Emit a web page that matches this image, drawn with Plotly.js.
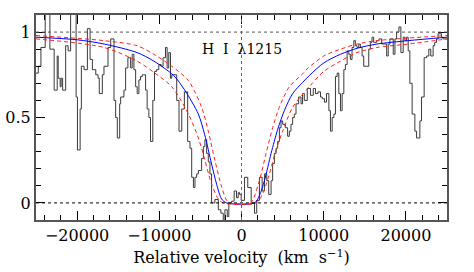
<!DOCTYPE html>
<html>
<head>
<meta charset="utf-8">
<script src="https://cdn.plot.ly/plotly-3.0.1.min.js"></script>
<style>html,body{margin:0;padding:0;background:#fff;}#chart{width:474px;height:272px;}</style>
</head>
<body>
<div id="chart"></div>
<script>
// Observed spectrum (bin start velocity, normalised flux)
const specV = [-25000,-24720,-24400,-23880,-23310,-22790,-22420,-22300,-22060,-21940,-21760,-21390,-21090,-20790,-20120,-19960,-19630,-19480,-19150,-18750,-18420,-18140,-17730,-17450,-17300,-16930,
-16730,-16240,-15910,-15510,-15310,-15110,-14820,-14700,-14300,-14100,-13820,-13490,-13300,-13090,-12880,-12690,-12480,-12280,-12080,-11880,-11670,-11480,-11270,-11070,-10790,-10580,-10340,-10060,-9780,-9540,-9250,-9050,-8850,-8640,
-8480,-7880,-7600,-7270,-6950,-6550,-6270,-6060,-5850,-5660,-5450,-5250,-4850,-4640,-4450,-4240,-4040,-3840,-3640,-3240,-2820,-2510,-2220,-2020,-1730,-1540,-1210,-890,-610,-400,
-240,-40,360,760,1180,1580,1850,2180,2510,2790,3070,3310,3600,3790,4000,4210,4400,4610,4810,5010,5330,5610,5820,6020,6220,6420,6630,6950,7240,7430,7640,
8000,8400,8730,9000,9300,9610,9820,10100,10340,10630,10820,11030,11240,11430,11640,11840,12040,12240,12450,12640,12850,13050,13250,13450,13660,13850,14060,14270,14460,14670,14870,15190,15480,15670,15880,16080,
16240,16450,16730,17050,17370,17660,17850,18060,18460,18670,18870,19150,19390,19670,19880,20080,20280,20480,20760,21090,21300,21490,21700,21900,22220,22510,22790,23030,23310,23510,23720,23910,24330,24520,25000];
const specF = [0.76,0.80,0.91,1.12,0.90,0.66,0.86,0.73,0.68,0.73,0.66,0.92,0.89,1.12,0.62,0.31,0.55,0.80,0.78,1.02,0.84,0.78,0.75,0.73,0.64,0.75,
0.80,0.91,0.96,0.60,0.50,0.38,0.58,0.62,0.66,0.79,0.85,0.79,0.87,0.78,0.68,0.64,0.72,0.74,0.75,0.75,0.66,0.55,0.50,0.36,0.60,0.77,0.78,0.81,0.80,0.85,0.91,0.79,0.88,0.73,
0.75,0.60,0.42,0.55,0.65,0.36,0.32,0.15,0.09,0.15,0.17,0.19,0.26,0.33,0.37,0.29,0.24,0.17,0.00,0.02,-0.04,-0.06,-0.11,-0.04,-0.08,0.00,0.01,0.07,0.03,0.06,
0.05,0.015,0.15,0.09,0.00,-0.06,0.015,0.15,0.07,0.17,0.13,0.05,0.13,0.23,0.29,0.32,0.36,0.44,0.48,0.46,0.44,0.39,0.42,0.46,0.50,0.52,0.58,0.62,0.58,0.64,0.60,
0.67,0.63,0.67,0.64,0.65,0.62,0.61,0.59,0.64,0.54,0.42,0.50,0.52,0.74,0.76,0.64,0.54,0.64,0.78,0.81,0.89,0.87,0.84,0.91,0.95,0.92,0.91,0.93,0.91,0.86,0.80,0.80,0.90,0.94,0.97,0.94,
0.94,0.95,0.96,0.93,0.93,0.86,0.93,0.96,0.87,0.96,1.00,1.03,0.88,0.97,0.95,0.97,0.89,0.70,0.52,0.42,0.38,0.38,0.48,0.62,0.85,0.86,0.90,0.86,0.92,0.94,0.96,0.99,0.97,0.96,0.96];

// Best-fit model profile (blue)
const fitV = [-25000,-20000,-16700,-12700,-10660,-8240,-6900,-5250,-4480,-3640,-3030,-2420,-1820,1580,2180,2790,3600,4400,5210,6220,7430,8240,10020,12040,14060,16480,20280,25000];
const fitF = [0.97,0.955,0.93,0.88,0.83,0.745,0.66,0.52,0.40,0.228,0.11,0.023,0.0,0.0,0.043,0.13,0.29,0.43,0.54,0.64,0.705,0.745,0.82,0.87,0.905,0.93,0.95,0.97];

// Narrow bound (red dashed)
const loV = [-25000,-16730,-12690,-10660,-8480,-6460,-4850,-4040,-3240,-2420,-1820,-1420,1100,1370,2180,2990,3790,4600,5820,7430,8000,10020,12040,14060,16480,20280,25000];
const loF = [0.98,0.95,0.92,0.87,0.80,0.716,0.56,0.42,0.25,0.094,0.016,0.0,0.0,0.016,0.13,0.29,0.44,0.56,0.68,0.755,0.785,0.86,0.90,0.93,0.95,0.965,0.98];

// Broad bound (red dashed)
const hiV = [-25000,-16730,-12690,-10660,-8480,-6460,-5250,-4450,-3640,-2820,-2220,1780,2590,3390,4200,5010,6220,8240,10020,12040,14060,16480,20280,25000];
const hiF = [0.96,0.91,0.83,0.764,0.68,0.52,0.38,0.25,0.11,0.023,0.0,0.0,0.055,0.17,0.31,0.42,0.56,0.68,0.77,0.83,0.88,0.91,0.93,0.96];

const font = {family: "'DejaVu Serif', 'Liberation Serif', serif", size: 14, color: '#000'};
const bigFont = {family: "'DejaVu Serif', 'Liberation Serif', serif", size: 16, color: '#000'};

const traces = [
  {x: specV, y: specF, type: 'scatter', mode: 'lines', line: {shape: 'hv', color: '#3a3a3a', width: 1}, hoverinfo: 'skip'},
  {x: fitV, y: fitF, type: 'scatter', mode: 'lines', line: {shape: 'spline', smoothing: 0.8, color: '#0000ff', width: 1}},
  {x: loV, y: loF, type: 'scatter', mode: 'lines', line: {shape: 'spline', smoothing: 0.8, color: '#ff2020', width: 1, dash: '4px,3px'}},
  {x: hiV, y: hiF, type: 'scatter', mode: 'lines', line: {shape: 'spline', smoothing: 0.8, color: '#ff2020', width: 1, dash: '4px,3px'}}
];

const layout = {
  width: 474, height: 272,
  margin: {l: 36, r: 27, t: 15, b: 52},
  paper_bgcolor: '#fff', plot_bgcolor: '#fff',
  showlegend: false,
  font: font,
  xaxis: {
    range: [-25000, 25000], autorange: false,
    tick0: 0, dtick: 10000, tickformat: 'd',
    ticks: 'inside', ticklen: 9, tickwidth: 1, tickcolor: '#000',
    minor: {dtick: 2000, ticks: 'inside', ticklen: 5, tickwidth: 1, tickcolor: '#000'},
    mirror: 'allticks', showline: true, linecolor: '#555', linewidth: 2,
    showgrid: false, zeroline: false,
    tickfont: bigFont,
    title: {text: 'Relative\u00a0velocity\u00a0\u00a0(km\u00a0\u00a0s<sup>\u22121</sup>)', font: bigFont, standoff: 8}
  },
  yaxis: {
    range: [-0.1, 1.1], autorange: false,
    tick0: 0, dtick: 0.5,
    ticks: 'inside', ticklen: 9, tickwidth: 1, tickcolor: '#000',
    minor: {dtick: 0.1, ticks: 'inside', ticklen: 5, tickwidth: 1, tickcolor: '#000'},
    mirror: 'allticks', showline: true, linecolor: '#555', linewidth: 2,
    showgrid: false, zeroline: false,
    tickfont: bigFont
  },
  shapes: [
    {type: 'line', xref: 'paper', yref: 'y', x0: 0, x1: 1, y0: 1, y1: 1, line: {color: '#555', width: 1, dash: 'dot'}},
    {type: 'line', xref: 'paper', yref: 'y', x0: 0, x1: 1, y0: 0, y1: 0, line: {color: '#000', width: 1, dash: 'dot'}},
    {type: 'line', xref: 'x', yref: 'paper', x0: 0, x1: 0, y0: 0, y1: 1, line: {color: '#666', width: 1, dash: 'dot'}}
  ],
  annotations: [
    {x: 0, y: 0.9, xref: 'x', yref: 'y', text: 'H\u00a0\u00a0I\u00a0\u00a0\u03bb1215', showarrow: false, font: font}
  ]
};

Plotly.newPlot('chart', traces, layout, {displayModeBar: false, staticPlot: true});
</script>
</body>
</html>
